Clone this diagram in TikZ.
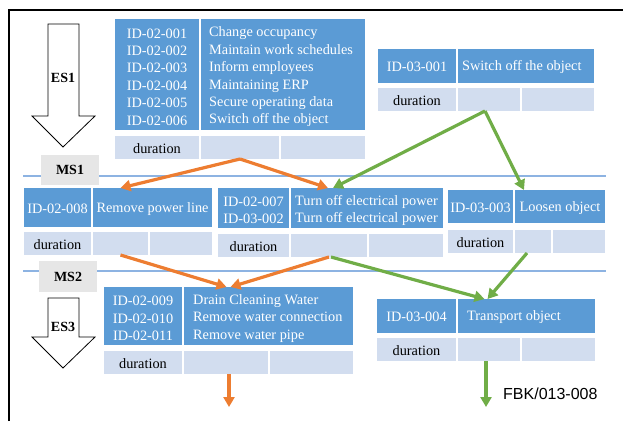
\documentclass[tikz,border=0pt]{standalone}
\usepackage{fontspec}
\setmainfont{Liberation Serif}
\newfontfamily\helv{Liberation Sans}
\usetikzlibrary{arrows.meta}
\definecolor{cellblue}{HTML}{5B9BD5}
\definecolor{durblue}{HTML}{D2DDEF}
\definecolor{msgray}{HTML}{E6E6E6}
\definecolor{arrorange}{HTML}{ED7D31}
\definecolor{arrgreen}{HTML}{70AD47}
\definecolor{sepblue}{HTML}{8DB3E2}
\tikzset{
  basecell/.style={inner sep=0pt, outer sep=0pt, draw=none},
  bluecell/.style={basecell, fill=cellblue},
  durcell/.style={basecell, fill=durblue},
  celltext/.style={inner sep=0pt, font=\fontsize{14.3}{17.4}\selectfont},
  wtc/.style={celltext, text=white, anchor=center, align=center},
  wtl/.style={celltext, text=white, anchor=west, align=left},
  btc/.style={celltext, text=black, anchor=center, align=center},
  msbox/.style={inner sep=0pt, fill=msgray, font=\bfseries\fontsize{14}{16}\selectfont},
  bigarrow/.style={draw=black, line width=0.8pt, fill=white},
  eslabel/.style={font=\bfseries\fontsize{14}{16}\selectfont, inner sep=0pt},
  orangearr/.style={draw=arrorange, line width=3.2pt, -{Triangle[length=10pt,width=11pt]}},
  greenarr/.style={draw=arrgreen, line width=3.2pt, -{Triangle[length=10pt,width=11pt]}},
  sepline/.style={draw=sepblue, line width=1.3pt},
}
% cell: name, style, x1, y1, x2, y2
\newcommand\mycell[6]{\node[#2, minimum width={(#5-#3)*1pt}, minimum height={(#6-#4)*1pt}]
  (#1) at ({(#3+#5)/2},{(#4+#6)/2}) {};}
% centred text in cell: [vertical shift], name, style, text
\newcommand\ctext[4][-1.2]{\node[#3] (#2t) at ([yshift=#1pt]#2.center) {#4};}
% left text in cell: [vertical shift], name, padding, text
\newcommand\ltext[4][-1.2]{\node[wtl] (#2t) at ([xshift=#3pt,yshift=#1pt]#2.west) {#4};}
\begin{document}
\begin{tikzpicture}[x=1pt,y=-1pt]
\useasboundingbox (0,0) rectangle (623,421);
% frame
\draw[line width=2.5pt] (9,421) -- (9,10) -- (623,10);
% separator lines
\draw[sepline] (23,176) -- (606,176);
\draw[sepline] (23,271) -- (606,271);
% milestone boxes
\node[msbox, minimum width=58pt, minimum height=30pt] (ms1) at (70,170) {MS1};
\node[msbox, minimum width=58pt, minimum height=31pt] (ms2) at (68,276.5) {MS2};
% big arrows
\draw[bigarrow] (48,24) -- (79,24) -- (79,116) -- (95,116) -- (63,147) -- (32,116) -- (48,116) -- cycle;
\node[eslabel] (es1) at (63,78) {ES1};
\draw[bigarrow] (48,298) -- (79,298) -- (79,337) -- (95,337) -- (63,368) -- (32,337) -- (48,337) -- cycle;
\node[eslabel] (es3) at (63,327) {ES3};
% block A
\mycell{Aid}{bluecell}{115}{19}{199}{130}
\mycell{Adesc}{bluecell}{201}{19}{365}{130}
\mycell{Adur1}{durcell}{115}{136}{199}{159}
\mycell{Adur2}{durcell}{201}{136}{279}{159}
\mycell{Adur3}{durcell}{281}{136}{365}{159}
\ctext[-2.5]{Aid}{wtc}{ID-02-001\\ID-02-002\\ID-02-003\\ID-02-004\\ID-02-005\\ID-02-006}
\ltext[-2.5]{Adesc}{8}{Change occupancy\\Maintain work schedules\\Inform employees\\Maintaining ERP\\Secure operating data\\Switch off the object}
\ctext{Adur1}{btc}{duration}
% block B
\mycell{Bid}{bluecell}{378}{49}{456}{83}
\mycell{Bdesc}{bluecell}{458}{49}{594}{83}
\mycell{Bdur1}{durcell}{378}{88}{456}{111}
\mycell{Bdur2}{durcell}{458}{88}{520}{111}
\mycell{Bdur3}{durcell}{522}{88}{594}{111}
\ctext{Bid}{wtc}{ID-03-001}
\ltext{Bdesc}{4}{Switch off the object}
\ctext{Bdur1}{btc}{duration}
% block C
\mycell{Cid}{bluecell}{24}{188}{91}{227}
\mycell{Cdesc}{bluecell}{93}{188}{212}{227}
\mycell{Cdur1}{durcell}{24}{232}{91}{255}
\mycell{Cdur2}{durcell}{93}{232}{148}{255}
\mycell{Cdur3}{durcell}{150}{232}{212}{255}
\ctext{Cid}{wtc}{ID-02-008}
\ctext{Cdesc}{wtc}{Remove power line}
\ctext{Cdur1}{btc}{duration}
% block D
\mycell{Did}{bluecell}{218}{188}{289}{228}
\mycell{Ddesc}{bluecell}{291}{188}{443}{228}
\mycell{Ddur1}{durcell}{218}{234}{289}{257}
\mycell{Ddur2}{durcell}{291}{234}{367}{257}
\mycell{Ddur3}{durcell}{369}{234}{443}{257}
\ctext[-2.5]{Did}{wtc}{ID-02-007\\ID-03-002}
\ltext[-2.5]{Ddesc}{4}{Turn off electrical power\\Turn off electrical power}
\ctext{Ddur1}{btc}{duration}
% block E
\mycell{Eid}{bluecell}{448}{190}{513}{223}
\mycell{Edesc}{bluecell}{515}{190}{605}{223}
\mycell{Edur1}{durcell}{448}{230}{513}{253}
\mycell{Edur2}{durcell}{515}{230}{551}{253}
\mycell{Edur3}{durcell}{553}{230}{605}{253}
\ctext{Eid}{wtc}{ID-03-003}
\ctext{Edesc}{wtc}{Loosen object}
\ctext{Edur1}{btc}{duration}
% block F
\mycell{Fid}{bluecell}{104}{287}{182}{345}
\mycell{Fdesc}{bluecell}{184}{287}{353}{345}
\mycell{Fdur1}{durcell}{104}{351}{182}{374}
\mycell{Fdur2}{durcell}{184}{351}{268}{374}
\mycell{Fdur3}{durcell}{270}{351}{353}{374}
\ctext[-2.5]{Fid}{wtc}{ID-02-009\\ID-02-010\\ID-02-011}
\ltext[-2.5]{Fdesc}{9}{Drain Cleaning Water\\Remove water connection\\Remove water pipe}
\ctext{Fdur1}{btc}{duration}
% block G
\mycell{Gid}{bluecell}{377}{299}{456}{333}
\mycell{Gdesc}{bluecell}{458}{299}{595}{333}
\mycell{Gdur1}{durcell}{377}{338}{456}{361}
\mycell{Gdur2}{durcell}{458}{338}{520}{361}
\mycell{Gdur3}{durcell}{522}{338}{595}{361}
\ctext{Gid}{wtc}{ID-03-004}
\ltext{Gdesc}{9}{Transport object}
\ctext{Gdur1}{btc}{duration}
% free ends
\coordinate (Fout) at (229,407);
\coordinate (Gout) at (486,407);
% label
\node[font=\helv\fontsize{16}{18}\selectfont, inner sep=0pt, anchor=west] (fbk) at (503,394) {FBK/013-008};
% connectors
\draw[orangearr] (Adur2.south) -- ([xshift=-32pt]Cdesc.north);
\draw[orangearr] (Adur2.south) -- ([xshift=-39pt]Ddesc.north);
\draw[greenarr] ([xshift=-4pt]Bdur2.south) -- ([xshift=-34pt]Ddesc.north);
\draw[greenarr] ([xshift=-4pt]Bdur2.south) -- ([xshift=-36pt]Edesc.north);
\draw[orangearr] (Cdur2.south) -- ([xshift=-42pt]Fdesc.north);
\draw[orangearr] (Ddur2.south) -- ([xshift=-38pt]Fdesc.north);
\draw[greenarr] ([xshift=2pt]Ddur2.south) -- ([xshift=-42pt]Gdesc.north);
\draw[greenarr] ([xshift=-6pt]Edur2.south) -- ([xshift=-39pt]Gdesc.north);
\draw[orangearr] ([xshift=3pt]Fdur2.south) -- (Fout);
\draw[greenarr] ([xshift=-3pt]Gdur2.south) -- (Gout);
\end{tikzpicture}
\end{document}
